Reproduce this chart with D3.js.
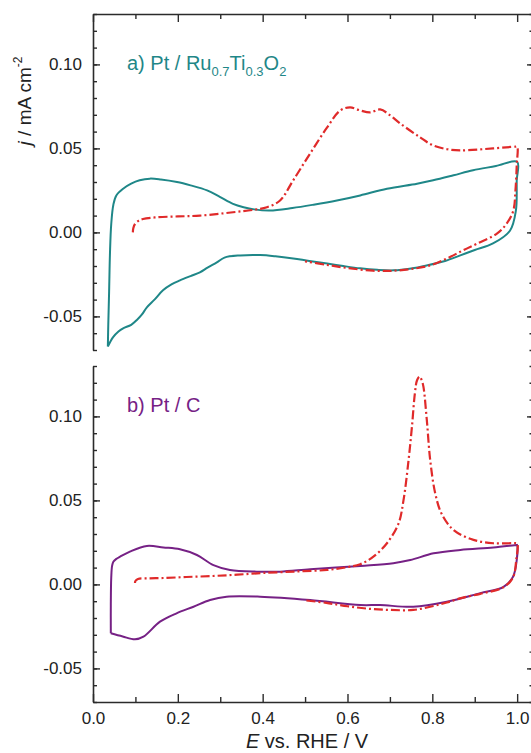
<!DOCTYPE html>
<html><head><meta charset="utf-8">
<script src="https://cdn.jsdelivr.net/npm/d3@7"></script>
<style>
body{margin:0;background:#fff;}
svg{display:block;}
text{font-family:"Liberation Sans",Arial,sans-serif;}
</style>
</head><body>
<svg id="chart" width="531" height="753"></svg>
<script>
// ---------------- DATA ----------------
const yTickValues = [-0.05, 0.00, 0.05, 0.10];
const yMinorValues = d3.range(-7, 14).map(i => i / 100);
const xTickValues = [0.0, 0.2, 0.4, 0.6, 0.8, 1.0];
const xMinorValues = [0.1, 0.3, 0.5, 0.7, 0.9];

// a) Pt / Ru0.7Ti0.3O2 — base CV (solid)
const ruCV_E_fwd = [0.035, 0.036, 0.038, 0.040, 0.043, 0.048, 0.055, 0.071, 0.09, 0.11, 0.134, 0.16, 0.198, 0.23, 0.269, 0.30, 0.33, 0.355, 0.38, 0.417, 0.47, 0.52, 0.575, 0.63, 0.693, 0.764, 0.802, 0.85, 0.896, 0.95, 1.0];
const ruCV_j_fwd = [-0.068, -0.055, -0.035, -0.0125, 0.005, 0.0165, 0.022, 0.026, 0.029, 0.031, 0.032, 0.0315, 0.030, 0.028, 0.025, 0.021, 0.017, 0.015, 0.0137, 0.013, 0.0145, 0.0165, 0.019, 0.022, 0.026, 0.029, 0.031, 0.034, 0.037, 0.0395, 0.042];
const ruCV_E_rev = [0.999, 0.997, 0.983, 0.943, 0.90, 0.866, 0.83, 0.788, 0.75, 0.708, 0.67, 0.63, 0.59, 0.552, 0.51, 0.472, 0.43, 0.394, 0.347, 0.31, 0.292, 0.27, 0.252, 0.23, 0.205, 0.185, 0.165, 0.145, 0.127, 0.115, 0.104, 0.09, 0.071, 0.06, 0.047, 0.035];
const ruCV_j_rev = [0.031, 0.013, 0.001, -0.0066, -0.0105, -0.0137, -0.017, -0.0196, -0.0215, -0.0226, -0.0223, -0.0214, -0.020, -0.0185, -0.017, -0.0155, -0.0142, -0.0135, -0.0137, -0.015, -0.0179, -0.021, -0.0238, -0.026, -0.0286, -0.031, -0.0345, -0.040, -0.0446, -0.049, -0.052, -0.055, -0.0571, -0.059, -0.0625, -0.068];

// a) CO stripping (dash-dot)
const ruCO_E_fwd = [0.094, 0.095, 0.099, 0.108, 0.118, 0.15, 0.2, 0.252, 0.33, 0.38, 0.41, 0.441, 0.472, 0.512, 0.552, 0.583, 0.606, 0.63, 0.653, 0.677, 0.70, 0.724, 0.771, 0.80, 0.835, 0.866, 0.943, 0.995, 1.0];
const ruCO_j_fwd = [0.0, 0.0025, 0.005, 0.007, 0.008, 0.009, 0.0095, 0.010, 0.012, 0.0135, 0.015, 0.019, 0.031, 0.047, 0.0625, 0.0726, 0.0744, 0.0726, 0.0714, 0.0732, 0.0698, 0.0649, 0.0566, 0.052, 0.0495, 0.0488, 0.050, 0.051, 0.051];
const ruCO_E_rev = [0.999, 0.996, 0.991, 0.976, 0.953, 0.906, 0.87, 0.835, 0.795, 0.75, 0.708, 0.66, 0.6, 0.55, 0.5];
const ruCO_j_rev = [0.040, 0.025, 0.013, 0.0055, -0.0006, -0.0066, -0.011, -0.0155, -0.0196, -0.0218, -0.0228, -0.0228, -0.0212, -0.0193, -0.0172];

// b) Pt / C — base CV (solid)
const pcCV_E_fwd = [0.042, 0.042, 0.043, 0.045, 0.048, 0.055, 0.064, 0.087, 0.127, 0.166, 0.205, 0.245, 0.284, 0.323, 0.386, 0.441, 0.512, 0.63, 0.708, 0.748, 0.803, 0.866, 0.944, 0.999];
const pcCV_j_fwd = [-0.0291, -0.012, 0.004, 0.011, 0.0135, 0.0152, 0.0165, 0.0195, 0.0229, 0.022, 0.0209, 0.0175, 0.0115, 0.0086, 0.0076, 0.0076, 0.009, 0.011, 0.0126, 0.0145, 0.0185, 0.0205, 0.022, 0.0235];
const pcCV_E_rev = [1.0, 0.999, 0.99, 0.967, 0.913, 0.834, 0.755, 0.677, 0.63, 0.512, 0.394, 0.315, 0.276, 0.237, 0.197, 0.158, 0.119, 0.099, 0.07, 0.042];
const pcCV_j_rev = [0.0235, 0.0145, 0.0044, -0.0016, -0.0052, -0.0103, -0.0133, -0.0123, -0.0123, -0.0093, -0.0073, -0.0073, -0.0093, -0.0133, -0.0172, -0.0222, -0.0311, -0.0327, -0.031, -0.0291];

// b) CO stripping (dash-dot)
const pcCO_E_fwd = [0.099, 0.100, 0.106, 0.13, 0.165, 0.22, 0.283, 0.34, 0.40, 0.48, 0.552, 0.60, 0.63, 0.661, 0.693, 0.720, 0.732, 0.744, 0.752, 0.759, 0.764, 0.770, 0.775, 0.779, 0.787, 0.795, 0.807, 0.822, 0.85, 0.897, 0.944, 0.991, 1.0];
const pcCO_j_fwd = [0.0008, 0.002, 0.0032, 0.0036, 0.0038, 0.0044, 0.005, 0.0058, 0.0068, 0.0077, 0.0086, 0.0103, 0.012, 0.0165, 0.0245, 0.036, 0.050, 0.074, 0.094, 0.114, 0.1215, 0.1237, 0.1215, 0.1177, 0.0979, 0.074, 0.054, 0.042, 0.0324, 0.0265, 0.0245, 0.0245, 0.0243];
const pcCO_E_rev = [0.998, 0.99, 0.967, 0.913, 0.87, 0.834, 0.8, 0.755, 0.70, 0.65, 0.6, 0.55, 0.5];
const pcCO_j_rev = [0.015, 0.004, -0.0018, -0.0056, -0.008, -0.0108, -0.013, -0.0152, -0.0152, -0.0145, -0.013, -0.011, -0.0095];

// ---------------- LAYOUT ----------------
const svg = d3.select("#chart");
const xDomain = [0, 1.035];
const x = d3.scaleLinear().domain(xDomain).range([93, 532]);
const yDomain = [-0.07, 0.13];
const panels = [
  {key: "a", top: 14, bottom: 350, color: "#1f8788",
   cv: [ruCV_E_fwd.concat(ruCV_E_rev), ruCV_j_fwd.concat(ruCV_j_rev)],
   co: [ruCO_E_fwd.concat(ruCO_E_rev), ruCO_j_fwd.concat(ruCO_j_rev)],
   topAxis: true, bottomAxis: false},
  {key: "b", top: 366, bottom: 702, color: "#762185",
   cv: [pcCV_E_fwd.concat(pcCV_E_rev), pcCV_j_fwd.concat(pcCV_j_rev)],
   co: [pcCO_E_fwd.concat(pcCO_E_rev), pcCO_j_fwd.concat(pcCO_j_rev)],
   topAxis: false, bottomAxis: true}
];
const axisColor = "#2b2b2b";
const red = "#e02a2a";
const fs = 17;
const fmtY = d => d.toFixed(2);
const fmtX = d => d.toFixed(1);

function styleAxis(g) {
  g.selectAll("path.domain").attr("stroke", axisColor).attr("stroke-width", 1.6);
  g.selectAll(".tick line").attr("stroke", axisColor).attr("stroke-width", 1.4);
  g.selectAll(".tick text").attr("fill", "#222").attr("font-size", fs)
    .attr("font-family", '"Liberation Sans", Arial, sans-serif');
}

panels.forEach(p => {
  const y = d3.scaleLinear().domain(yDomain).range([p.bottom, p.top]);
  const g = svg.append("g");

  g.append("g").attr("transform", `translate(${x(0)},0)`)
    .call(d3.axisLeft(y).tickValues(yMinorValues).tickSize(-4).tickSizeOuter(0).tickFormat(""))
    .call(styleAxis);
  g.append("g").attr("transform", `translate(${x(0)},0)`)
    .call(d3.axisLeft(y).tickValues(yTickValues).tickSize(-7).tickSizeOuter(0).tickPadding(11).tickFormat(fmtY))
    .call(styleAxis)
    .call(a => a.select("path.domain").remove());

  g.append("g").attr("transform", `translate(${x(xDomain[1])},0)`)
    .call(d3.axisRight(y).tickValues(yMinorValues).tickSize(-2.5).tickSizeOuter(0).tickFormat(""))
    .call(styleAxis);
  g.append("g").attr("transform", `translate(${x(xDomain[1])},0)`)
    .call(d3.axisRight(y).tickValues(yTickValues).tickSize(-5).tickSizeOuter(0).tickFormat(""))
    .call(styleAxis)
    .call(a => a.select("path.domain").remove());

  if (p.topAxis) {
    g.append("g").attr("transform", `translate(0,${p.top})`)
      .call(d3.axisTop(x).tickValues(xMinorValues).tickSize(-5).tickSizeOuter(0).tickFormat(""))
      .call(styleAxis);
    g.append("g").attr("transform", `translate(0,${p.top})`)
      .call(d3.axisTop(x).tickValues(xTickValues).tickSize(-8).tickSizeOuter(0).tickFormat(""))
      .call(styleAxis)
      .call(a => a.select("path.domain").remove());
  }
  if (p.bottomAxis) {
    g.append("g").attr("transform", `translate(0,${p.bottom})`)
      .call(d3.axisBottom(x).tickValues(xMinorValues).tickSize(-5).tickSizeOuter(0).tickFormat(""))
      .call(styleAxis);
    g.append("g").attr("transform", `translate(0,${p.bottom})`)
      .call(d3.axisBottom(x).tickValues(xTickValues).tickSize(-8).tickSizeOuter(0).tickPadding(10).tickFormat(fmtX))
      .call(styleAxis)
      .call(a => a.select("path.domain").remove());
  }

  const line = d3.line().x(d => x(d[0])).y(d => y(d[1])).curve(d3.curveCatmullRom.alpha(0.5));
  const cvPts = p.cv[0].map((e, i) => [e, p.cv[1][i]]);
  const coPts = p.co[0].map((e, i) => [e, p.co[1][i]]);

  g.append("path").datum(cvPts).attr("d", line)
    .attr("fill", "none").attr("stroke", p.color).attr("stroke-width", 2)
    .attr("stroke-linejoin", "round");
  g.append("path").datum(coPts).attr("d", line)
    .attr("fill", "none").attr("stroke", red).attr("stroke-width", 2.2)
    .attr("stroke-dasharray", "9,3,2,3");
});

// panel labels
const la = svg.append("text").attr("x", 127).attr("y", 70).attr("fill", panels[0].color).attr("font-size", 20);
la.append("tspan").text("a) Pt / Ru");
la.append("tspan").attr("font-size", 13).attr("dy", 6).text("0.7");
la.append("tspan").attr("dy", -6).text("Ti");
la.append("tspan").attr("font-size", 13).attr("dy", 6).text("0.3");
la.append("tspan").attr("dy", -6).text("O");
la.append("tspan").attr("font-size", 13).attr("dy", 6).text("2");

svg.append("text").attr("x", 127).attr("y", 412).attr("fill", panels[1].color)
  .attr("font-size", 20).text("b) Pt / C");

// y-axis title
const yt = svg.append("text").attr("transform", "translate(31,101) rotate(-90)")
  .attr("text-anchor", "middle").attr("fill", "#222").attr("font-size", 19);
yt.append("tspan").attr("font-style", "italic").text("j");
yt.append("tspan").text(" / mA cm");
yt.append("tspan").attr("font-size", 12).attr("dy", -9).text("-2");

// x-axis title
const xt = svg.append("text").attr("x", 307).attr("y", 748)
  .attr("text-anchor", "middle").attr("fill", "#222").attr("font-size", 20);
xt.append("tspan").attr("font-style", "italic").text("E");
xt.append("tspan").text(" vs. RHE / V");
</script>
</body></html>
